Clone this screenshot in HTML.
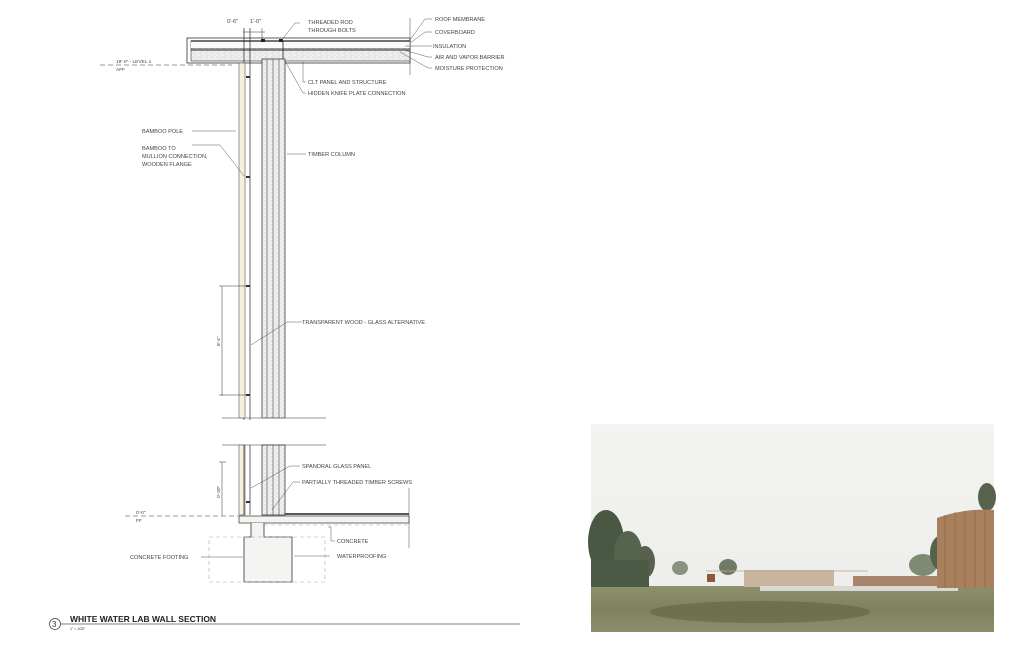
<!DOCTYPE html>
<html><head><meta charset="utf-8"><style>
html,body{margin:0;padding:0;background:#fff;width:1024px;height:662px;overflow:hidden}
svg{display:block}
text{font-family:"Liberation Sans",sans-serif;font-size:5.6px;fill:#444}
</style></head><body>
<svg width="1024" height="662" viewBox="0 0 1024 662" xmlns="http://www.w3.org/2000/svg">
<defs>
<pattern id="hatch" width="6" height="4" patternUnits="userSpaceOnUse">
<rect width="6" height="4" fill="#f0f0f0"/><line x1="0" y1="1" x2="4" y2="1" stroke="#cfcfcf" stroke-width="0.6"/><line x1="2" y1="3" x2="6" y2="3" stroke="#dadada" stroke-width="0.5"/>
</pattern>
<linearGradient id="sky" x1="0" y1="0" x2="0" y2="1"><stop offset="0" stop-color="#f3f3f1"/><stop offset="1" stop-color="#ececea"/></linearGradient>
<linearGradient id="grass" x1="0" y1="0" x2="0" y2="1"><stop offset="0" stop-color="#8e8f6e"/><stop offset="0.5" stop-color="#80815c"/><stop offset="1" stop-color="#8c8d6c"/></linearGradient>
</defs>

<!-- ROOF -->
<rect x="187" y="38" width="223" height="25" fill="#fff" stroke="#333" stroke-width="0.8"/>
<rect x="191" y="41" width="219" height="20" fill="url(#hatch)" stroke="#333" stroke-width="0.6"/>
<line x1="191" y1="41" x2="410" y2="41" stroke="#222" stroke-width="1.2"/>
<line x1="191" y1="48" x2="410" y2="48" stroke="#222" stroke-width="0.8"/>
<line x1="191" y1="50" x2="410" y2="50" stroke="#222" stroke-width="1"/>
<rect x="191" y="42" width="219" height="6" fill="#fafafa"/>
<line x1="410" y1="18" x2="410" y2="75" stroke="#444" stroke-width="0.5"/>
<line x1="100" y1="65" x2="232" y2="65" stroke="#777" stroke-width="0.7" stroke-dasharray="5,3"/>
<text x="116" y="63" style="font-size:4.8px">19'-0" - LEVEL 1</text>
<text x="116" y="71" style="font-size:4.8px">AFF</text>
<line x1="244" y1="28" x2="244" y2="420" stroke="#222" stroke-width="0.7"/>
<line x1="250" y1="28" x2="250" y2="420" stroke="#222" stroke-width="0.7"/>
<line x1="243" y1="32" x2="265" y2="32" stroke="#333" stroke-width="0.5"/>
<line x1="262" y1="28" x2="262" y2="40" stroke="#333" stroke-width="0.5"/>
<text x="227" y="23">0'-6"</text><text x="250" y="23">1'-0"</text>
<rect x="261" y="39" width="4" height="3" fill="#222"/><rect x="279" y="39" width="4" height="3" fill="#222"/>
<line x1="283" y1="41" x2="283" y2="59" stroke="#222" stroke-width="0.8"/>

<!-- UPPER WALL -->
<rect x="239" y="63" width="6" height="355" fill="#f6f0dc" stroke="#555" stroke-width="0.6"/>
<rect x="262" y="59" width="23" height="359" fill="url(#hatch)" stroke="#222" stroke-width="0.7"/>
<line x1="267" y1="59" x2="267" y2="418" stroke="#333" stroke-width="0.5"/>
<line x1="273" y1="59" x2="273" y2="418" stroke="#333" stroke-width="0.5"/>
<line x1="279" y1="59" x2="279" y2="418" stroke="#333" stroke-width="0.5"/>
<line x1="222" y1="418" x2="326" y2="418" stroke="#777" stroke-width="0.7"/>
<g fill="#333"><rect x="246" y="76" width="4" height="2"/><rect x="246" y="176" width="4" height="2"/><rect x="246" y="285" width="4" height="2"/><rect x="246" y="394" width="4" height="2"/></g>
<line x1="222" y1="286" x2="222" y2="396" stroke="#333" stroke-width="0.5"/>
<line x1="219" y1="286" x2="250" y2="286" stroke="#333" stroke-width="0.5"/>
<line x1="219" y1="395" x2="250" y2="395" stroke="#333" stroke-width="0.5"/>
<text x="0" y="0" transform="translate(220,346) rotate(-90)" style="font-size:4.8px">8'-4"</text>

<!-- LOWER WALL -->
<line x1="222" y1="445" x2="326" y2="445" stroke="#777" stroke-width="0.7"/>
<rect x="239" y="445" width="6" height="70" fill="#f6f0dc" stroke="#555" stroke-width="0.6"/>
<line x1="244" y1="445" x2="244" y2="515" stroke="#222" stroke-width="0.7"/>
<line x1="250" y1="445" x2="250" y2="515" stroke="#222" stroke-width="0.7"/>
<rect x="262" y="445" width="23" height="70" fill="url(#hatch)" stroke="#222" stroke-width="0.7"/>
<line x1="267" y1="445" x2="267" y2="515" stroke="#333" stroke-width="0.5"/>
<line x1="273" y1="445" x2="273" y2="515" stroke="#333" stroke-width="0.5"/>
<line x1="279" y1="445" x2="279" y2="515" stroke="#333" stroke-width="0.5"/>
<rect x="246" y="501" width="4" height="2" fill="#333"/>
<line x1="222" y1="462" x2="222" y2="516" stroke="#333" stroke-width="0.5"/>
<line x1="219" y1="462" x2="226" y2="462" stroke="#333" stroke-width="0.5"/>
<text x="0" y="0" transform="translate(220,498) rotate(-90)" style="font-size:4.8px">0'-30"</text>
<line x1="285" y1="514" x2="409" y2="514" stroke="#222" stroke-width="1.5"/>
<line x1="409" y1="488" x2="409" y2="548" stroke="#444" stroke-width="0.5"/>
<line x1="125" y1="516" x2="238" y2="516" stroke="#777" stroke-width="0.7" stroke-dasharray="5,3"/>
<text x="136" y="514" style="font-size:4.8px">0'-0"</text><text x="136" y="522" style="font-size:4.8px">FF</text>
<rect x="239" y="516" width="170" height="7" fill="#f3f3f0" stroke="#333" stroke-width="0.7"/>
<path d="M251 523 V537 H244 V582 H292 V537 H264 V523" fill="#f4f4f2" stroke="#333" stroke-width="0.8"/>
<rect x="209" y="537" width="116" height="45" fill="none" stroke="#aaa" stroke-width="0.6" stroke-dasharray="4,3"/>
<line x1="264" y1="525" x2="409" y2="525" stroke="#aaa" stroke-width="0.6" stroke-dasharray="4,3"/>

<g stroke="#444" stroke-width="0.45" fill="none">
<polyline points="410,40 425,19 432,19"/><polyline points="410,43 425,32 432,32"/>
<polyline points="405,46 432,46"/><polyline points="404,50 428,57 432,57"/><polyline points="400,52 428,68 432,68"/>
<polyline points="282,40 295,23 300,23"/>
<polyline points="303,62 303,82 306,82"/><polyline points="285,61 303,93 306,93"/>
<polyline points="192,131 236,131"/><polyline points="192,145 220,145 244,176"/>
<polyline points="287,154 306,154"/>
<polyline points="251,345 287,322 302,322"/>
<polyline points="251,488 290,466 300,466"/><polyline points="272,510 293,482 300,482"/>
<polyline points="328,527 331,527 331,541 335,541"/><polyline points="294,556 330,556"/>
<polyline points="201,557 243,557"/>
</g>
<text x="435" y="21">ROOF MEMBRANE</text>
<text x="435" y="34">COVERBOARD</text>
<text x="433" y="48">INSULATION</text>
<text x="435" y="59">AIR AND VAPOR BARRIER</text>
<text x="435" y="70">MOISTURE PROTECTION</text>
<text x="308" y="24">THREADED ROD</text><text x="308" y="32">THROUGH BOLTS</text>
<text x="308" y="84">CLT PANEL AND STRUCTURE</text>
<text x="308" y="95">HIDDEN KNIFE PLATE CONNECTION</text>
<text x="142" y="133">BAMBOO POLE</text>
<text x="142" y="150">BAMBOO TO</text><text x="142" y="158">MULLION CONNECTION,</text><text x="142" y="166">WOODEN FLANGE</text>
<text x="308" y="156">TIMBER COLUMN</text>
<text x="302" y="324">TRANSPARENT WOOD - GLASS ALTERNATIVE</text>
<text x="302" y="468">SPANDRAL GLASS PANEL</text>
<text x="302" y="484">PARTIALLY THREADED TIMBER SCREWS</text>
<text x="337" y="543">CONCRETE</text>
<text x="337" y="558">WATERPROOFING</text>
<text x="130" y="559">CONCRETE FOOTING</text>

<circle cx="55" cy="624" r="5.5" fill="#fff" stroke="#333" stroke-width="0.7"/>
<text x="52" y="627" style="font-size:8px;fill:#333">3</text>
<line x1="61" y1="624" x2="520" y2="624" stroke="#555" stroke-width="0.7"/>
<text x="70" y="622" style="font-size:8.5px;fill:#222;font-weight:bold">WHITE WATER LAB WALL SECTION</text>
<text x="70" y="630" style="font-size:3.5px;fill:#222">1" = 1/32"</text>

<!-- PHOTO -->
<rect x="591" y="424" width="403" height="208" fill="url(#sky)"/>
<rect x="591" y="586" width="403" height="46" fill="url(#grass)"/>
<ellipse cx="760" cy="612" rx="110" ry="11" fill="#5f6140" opacity="0.55"/>
<ellipse cx="606" cy="542" rx="18" ry="32" fill="#4a5843"/>
<ellipse cx="628" cy="553" rx="14" ry="22" fill="#56634d"/>
<ellipse cx="645" cy="562" rx="10" ry="16" fill="#56624c"/>
<rect x="591" y="560" width="58" height="27" fill="#4c5944"/>
<ellipse cx="680" cy="568" rx="8" ry="7" fill="#8a9282"/>
<ellipse cx="728" cy="567" rx="9" ry="8" fill="#6f7a66"/>
<rect x="707" y="574" width="8" height="8" fill="#8a5a3a"/>
<rect x="744" y="570" width="90" height="17" fill="#c9b59e"/>
<line x1="706" y1="571" x2="868" y2="571" stroke="#b8a898" stroke-width="0.8"/>
<rect x="853" y="576" width="85" height="11" fill="#a8856a"/>
<rect x="760" y="586" width="198" height="5" fill="#d9d9d6"/>
<ellipse cx="923" cy="565" rx="14" ry="11" fill="#7d8a74"/>
<ellipse cx="942" cy="553" rx="12" ry="18" fill="#55624d"/>
<ellipse cx="987" cy="497" rx="9" ry="14" fill="#57634c"/>
<path d="M937 518 Q965 508 994 510 V588 H937 Z" fill="#a9805e"/>
<g stroke="#8c623f" stroke-width="0.6"><line x1="945" y1="515" x2="945" y2="588"/><line x1="955" y1="512" x2="955" y2="588"/><line x1="965" y1="511" x2="965" y2="588"/><line x1="975" y1="510" x2="975" y2="588"/><line x1="985" y1="510" x2="985" y2="588"/></g>
</svg>
</body></html>
